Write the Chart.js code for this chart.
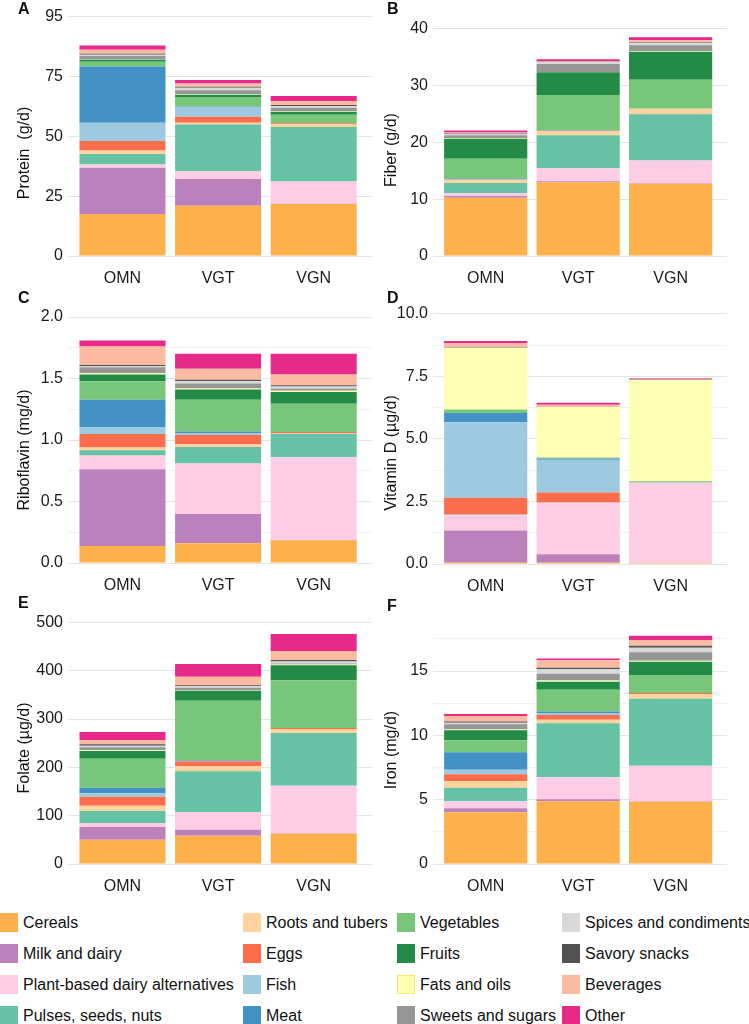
<!DOCTYPE html>
<html>
<head>
<meta charset="utf-8">
<script src="https://cdn.jsdelivr.net/npm/chart.js@4.4.1/dist/chart.umd.min.js"></script>
<style>
  body { margin: 0; width: 749px; height: 1024px; position: relative; overflow: hidden; background: #fff;
         font-family: "Liberation Sans", Arial, sans-serif; color: #111; }
  canvas { position: absolute; }
  .tag { position: absolute; font-weight: bold; font-size: 16px; line-height: 16px; }
  .ytitle { position: absolute; font-size: 16px; line-height: 18px; white-space: pre;
            transform: translate(-50%, -50%) rotate(-90deg); }
  .key { position: absolute; font-size: 16px; line-height: 19px; height: 19px; white-space: nowrap; }
  .key i { position: absolute; width: 18px; height: 19px; top: 0; box-sizing: border-box; }
</style>
</head>
<body>
<canvas id="chartA"></canvas>
<canvas id="chartB"></canvas>
<canvas id="chartC"></canvas>
<canvas id="chartD"></canvas>
<canvas id="chartE"></canvas>
<canvas id="chartF"></canvas>
<div id="legend"></div>
<script>
// diet groups on the x axis
const groups = ['OMN', 'VGT', 'VGN'];

// food groups, stacked bottom to top
const foodGroups = ['Cereals', 'Milk and dairy', 'Plant-based dairy alternatives', 'Pulses, seeds, nuts',
    'Roots and tubers', 'Eggs', 'Fish', 'Meat', 'Vegetables', 'Fruits', 'Fats and oils',
    'Sweets and sugars', 'Spices and condiments', 'Savory snacks', 'Beverages', 'Other'];

const colors = ['#FDB04B', '#BC80BD', '#FCCDE5', '#66C2A5', '#FDD49E', '#FC6D4C', '#9ECAE1', '#4292C6',
    '#78C679', '#238B45', '#FFFFB3', '#969696', '#D9D9D9', '#525252', '#FCBBA1', '#E7298A'];

// one row per food group: [OMN, VGT, VGN]
const protein = [
    [17.6, 21.0, 21.8], [19.3, 11.2, 0.1], [1.4, 3.2, 9.3], [4.4, 19.6, 22.8],
    [1.4, 0.7, 1.2], [4.0, 2.5, 0.3], [7.6, 4.1, 0.05], [23.6, 0.1, 0],
    [2.0, 4.1, 3.5], [0.8, 1.0, 1.3], [0.1, 0.3, 0.3], [1.5, 1.5, 1.4],
    [0.5, 1.1, 0.7], [0.4, 0.4, 0.4], [1.7, 1.4, 1.7], [1.7, 1.4, 2.1]
];
const fiber = [
    [10.26, 12.96, 12.73], [0.3, 0.18, 0.05], [0.47, 2.29, 4.0], [1.81, 5.8, 8.16],
    [0.59, 0.77, 0.94], [0.02, 0.02, 0.03], [0.02, 0.05, 0], [0.15, 0.1, 0],
    [3.5, 6.16, 5.1], [3.52, 3.99, 4.9], [0.1, 0.05, 0.15], [0.5, 1.4, 1.0],
    [0.2, 0.3, 0.35], [0.1, 0.1, 0.15], [0.2, 0.15, 0.38], [0.35, 0.3, 0.53]
];
const riboflavin = [
    [0.138, 0.160, 0.184], [0.624, 0.238, 0.003], [0.113, 0.412, 0.672], [0.041, 0.133, 0.192],
    [0.024, 0.022, 0.004], [0.109, 0.076, 0.010], [0.057, 0.016, 0], [0.222, 0.013, 0],
    [0.149, 0.258, 0.230], [0.055, 0.082, 0.095], [0.010, 0.010, 0.010], [0.050, 0.040, 0.020],
    [0.008, 0.020, 0.015], [0.010, 0.011, 0.010], [0.151, 0.089, 0.087], [0.048, 0.122, 0.170]
];
const vitaminD = [
    [0.05, 0.05, 0.04], [1.29, 0.34, 0], [0.62, 2.06, 3.21], [0.01, 0.01, 0.01],
    [0.01, 0, 0], [0.67, 0.40, 0], [3.01, 1.31, 0], [0.37, 0.05, 0],
    [0.12, 0.02, 0.04], [0.01, 0.01, 0.01], [2.47, 2.02, 4.03], [0.02, 0.01, 0.02],
    [0.01, 0, 0], [0.01, 0, 0.01], [0.16, 0.08, 0.03], [0.08, 0.08, 0.03]
];
const folate = [
    [50.3, 58.6, 62.8], [26.3, 12.4, 0.5], [8.2, 35.9, 98.8], [24.9, 84.8, 109],
    [11.0, 10.4, 8.0], [18.6, 10.3, 2.3], [6.9, 1.4, 0], [11.7, 1.4, 0],
    [60.0, 122.8, 98.6], [15.9, 20.6, 31.0], [1.4, 1.0, 2.0], [6.2, 5.0, 2.0],
    [3.5, 3.0, 4.0], [2.7, 2.0, 3.0], [8.3, 18.0, 18.7], [17.2, 26.2, 35.2]
];
const iron = [
    [4.02, 4.87, 4.84], [0.31, 0.16, 0.02], [0.54, 1.71, 2.78], [1.06, 4.19, 5.21],
    [0.52, 0.29, 0.36], [0.52, 0.36, 0.08], [0.36, 0.16, 0], [1.35, 0.12, 0],
    [0.93, 1.69, 1.37], [0.78, 0.62, 1.06], [0.06, 0.10, 0.08], [0.42, 0.52, 0.65],
    [0.10, 0.34, 0.36], [0.11, 0.13, 0.16], [0.42, 0.57, 0.44], [0.15, 0.15, 0.33]
];

// y ticks ('' = minor grid line without label)
const proteinTicks = [0, 25, 50, 75, 100];
const proteinTickLabels = ['0', '25', '50', '75', '95'];
const fiberTicks = [0, 10, 20, 30, 40];
const fiberTickLabels = ['0', '10', '20', '30', '40'];
const riboTicks = [0, 0.25, 0.5, 0.75, 1, 1.25, 1.5, 1.75, 2];
const riboTickLabels = ['0.0', '', '0.5', '', '1.0', '', '1.5', '', '2.0'];
const vitDTicks = [0, 1.25, 2.5, 3.75, 5, 6.25, 7.5, 8.75, 10];
const vitDTickLabels = ['0.0', '', '2.5', '', '5.0', '', '7.5', '', '10.0'];
const folateTicks = [0, 100, 200, 300, 400, 500];
const folateTickLabels = ['0', '100', '200', '300', '400', '500'];
const ironTicks = [0, 2.5, 5, 7.5, 10, 12.5, 15, 17.5];
const ironTickLabels = ['0', '', '5', '', '10', '', '15', ''];

Chart.defaults.font.family = '"Liberation Sans", Arial, sans-serif';
Chart.defaults.font.size = 16;
Chart.defaults.color = '#1a1a1a';

// canvas top sits 20px above the plot area so tick-label overflow never pushes the area down
const panels = [
    {id: 'A', values: protein, ticks: proteinTicks, labels: proteinTickLabels, title: 'Protein  (g/d)',
     left: 0, y0: 256, areaTop: 10, max: 102.9, titleX: 24, titleY: 153},
    {id: 'B', values: fiber, ticks: fiberTicks, labels: fiberTickLabels, title: 'Fiber (g/d)',
     left: 375, y0: 256, areaTop: 10, max: 43.27, titleX: 391, titleY: 150},
    {id: 'C', values: riboflavin, ticks: riboTicks, labels: riboTickLabels, title: 'Riboflavin (mg/d)',
     left: 0, y0: 563, areaTop: 305, max: 2.098, titleX: 24, titleY: 450},
    {id: 'D', values: vitaminD, ticks: vitDTicks, labels: vitDTickLabels, title: 'Vitamin D (µg/d)',
     left: 375, y0: 564, areaTop: 305, max: 10.35, titleX: 391, titleY: 453},
    {id: 'E', values: folate, ticks: folateTicks, labels: folateTickLabels, title: 'Folate (µg/d)',
     left: 0, y0: 864, areaTop: 605, max: 535.9, titleX: 24, titleY: 748},
    {id: 'F', values: iron, ticks: ironTicks, labels: ironTickLabels, title: 'Iron (mg/d)',
     left: 375, y0: 864, areaTop: 605, max: 20.13, titleX: 391, titleY: 750}
];

const tagPos = {A: [18, 1], B: [387, 1], C: [18, 290], D: [387, 290], E: [18, 595], F: [387, 598]};

panels.forEach(p => {
    const isLeft = p.left === 0;
    const axisW = isLeft ? 68 : 58;
    const padRight = isLeft ? 2 : 22;
    const xAxisH = 40;
    const padTop = 20;
    const top = p.areaTop - padTop;

    const canvas = document.getElementById('chart' + p.id);
    canvas.width = 374;
    canvas.height = p.y0 - top + xAxisH;
    canvas.style.left = p.left + 'px';
    canvas.style.top = top + 'px';

    const datasets = foodGroups.map((name, i) => ({
        label: name,
        data: groups.map((g, j) => ({x: j + 1, y: p.values[i][j]})),
        backgroundColor: colors[i],
        borderWidth: 0,
        categoryPercentage: 1,
        barPercentage: 0.9
    }));

    new Chart(canvas, {
        type: 'bar',
        data: {datasets: datasets},
        options: {
            responsive: false,
            animation: false,
            events: [],
            layout: {padding: {top: padTop, right: padRight, left: 0, bottom: 0}},
            plugins: {legend: {display: false}, tooltip: {enabled: false}},
            scales: {
                x: {
                    type: 'linear', min: 0.43, max: 3.61, offset: false, stacked: true,
                    grid: {display: false, drawTicks: false},
                    border: {display: false},
                    afterBuildTicks: s => { s.ticks = groups.map((g, j) => ({value: j + 1})); },
                    afterFit: s => { s.height = xAxisH; },
                    ticks: {padding: 13, autoSkip: false, maxRotation: 0, callback: (v, i) => groups[i]}
                },
                y: {
                    min: 0, max: p.max, stacked: true,
                    border: {display: false},
                    grid: {
                        drawTicks: false,
                        color: c => p.labels[c.index] ? '#e4e4e4' : '#f1f1f1'
                    },
                    afterBuildTicks: s => { s.ticks = p.ticks.map(v => ({value: v})); },
                    afterFit: s => { s.width = axisW; },
                    ticks: {padding: 5, autoSkip: false, callback: (v, i) => p.labels[i]}
                }
            }
        }
    });

    const tag = document.createElement('div');
    tag.className = 'tag';
    tag.textContent = p.id;
    tag.style.left = tagPos[p.id][0] + 'px';
    tag.style.top = tagPos[p.id][1] + 'px';
    document.body.appendChild(tag);

    const t = document.createElement('div');
    t.className = 'ytitle';
    t.textContent = p.title;
    t.style.left = p.titleX + 'px';
    t.style.top = p.titleY + 'px';
    document.body.appendChild(t);
});

// legend: 4 columns x 4 rows, column-major
const legendCols = [0, 243, 397, 562];
const legendRows = [922, 953, 984, 1015];
const legend = document.getElementById('legend');
foodGroups.forEach((name, i) => {
    const col = Math.floor(i / 4), row = i % 4;
    const item = document.createElement('div');
    item.className = 'key';
    item.style.left = legendCols[col] + 'px';
    item.style.top = (legendRows[row] - 9.5) + 'px';
    const sw = document.createElement('i');
    sw.style.background = colors[i];
    if (name === 'Fats and oils') sw.style.border = '1px solid #efe97a';
    item.appendChild(sw);
    const txt = document.createElement('span');
    txt.textContent = name;
    txt.style.marginLeft = '23px';
    item.appendChild(txt);
    legend.appendChild(item);
});
</script>
</body>
</html>
